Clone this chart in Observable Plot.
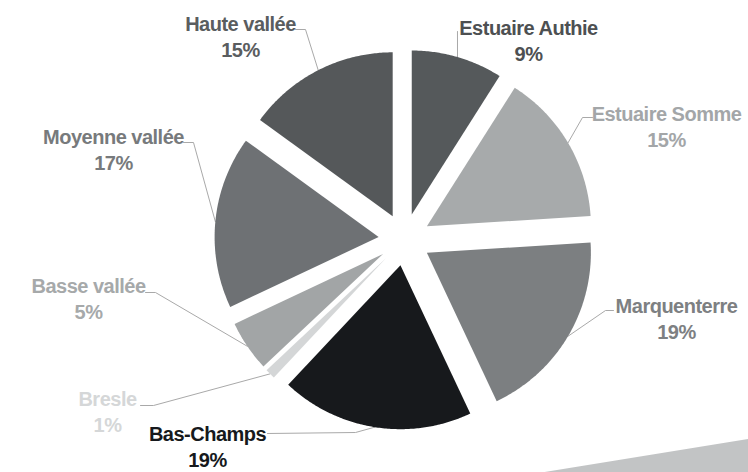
<!DOCTYPE html>
<html><head><meta charset="utf-8">
<script src="https://cdn.jsdelivr.net/npm/d3@7"></script>
<script src="https://cdn.jsdelivr.net/npm/@observablehq/plot@0.6"></script>
<style>
html,body{margin:0;padding:0;background:#fff;}
#wrap{position:relative;width:748px;height:472px;overflow:hidden;}
#deco{position:absolute;left:0;top:0;width:748px;height:472px;z-index:2;
  background:linear-gradient(90deg, rgba(194,196,197,0) 0px, #c2c4c5 300px);
  clip-path:polygon(520px 476px,748px 439px,748px 472px,520px 472px);}
</style></head><body><div id="wrap"><div id="deco"></div></div>
<script>
// ---- data ----
const regions = ["Estuaire Authie","Estuaire Somme","Marquenterre","Bas-Champs","Bresle","Basse vallée","Moyenne vallée","Haute vallée"];
const shares = [9,15,19,19,1,5,17,15];
const pctLabels = ["9%","15%","19%","19%","1%","5%","17%","15%"];
// ---- styles ----
const sliceColors = ["#55595b","#a7aaab","#7c7f81","#17191c","#d4d6d7","#a2a5a6","#6e7174","#55585a"];
const labelColors = ["#4d5052","#a3a6a8","#7d8082","#16191c","#d5d7d8","#a6a9aa","#777a7c","#5a5d5f"];
// ---- layout (pixels) ----
const W = 748, H = 472, CX = 404, CY = 239, R = 164, EXPLODE = 26;
const labelCenters = [[528,39],[666,125],[676,317],[207,445],[107,410],[88,297],[113,148],[240,35]];
const leaderHeads = [[[457,31]],[[592,117],[582,117]],[[613,310],[605,310]],[[267,433],[355,432]],[[140,405],[153,405]],[[145,292],[155,292]],[[183,142],[193,142]],[[295,29],[305,29]]];

const arcs = d3.pie().sort(null).value(d => d)(shares);
const pol = (a, r) => [r * Math.sin(a), -r * Math.cos(a)];

const slicePts = [];
const leaderPts = [];
arcs.forEach((a, i) => {
  const mid = (a.startAngle + a.endAngle) / 2;
  const [ox, oy] = pol(mid, EXPLODE);
  slicePts.push({name: regions[i], color: sliceColors[i], x: ox, y: oy});
  const n = Math.max(2, Math.ceil((a.endAngle - a.startAngle) / 0.01));
  for (let k = 0; k <= n; k++) {
    const t = a.startAngle + (a.endAngle - a.startAngle) * k / n;
    const [px, py] = pol(t, R);
    slicePts.push({name: regions[i], color: sliceColors[i], x: ox + px, y: oy + py});
  }
  leaderHeads[i].forEach(([x, y]) => leaderPts.push({name: regions[i], x: x - CX, y: y - CY}));
  const [mx, my] = pol(mid, R);
  leaderPts.push({name: regions[i], x: ox + mx, y: oy + my});
});

const labels = regions.map((r, i) => ({
  text: r + "\n" + pctLabels[i],
  color: labelColors[i],
  x: labelCenters[i][0] - CX,
  y: labelCenters[i][1] - CY
}));

const chart = Plot.plot({
  width: W, height: H,
  margin: 0,
  x: {domain: [-CX, W - CX], range: [0, W], axis: null},
  y: {domain: [-CY, H - CY], range: [0, H], axis: null},
  color: {type: "identity"},
  style: {background: "transparent", fontFamily: "'Liberation Sans', Arial, sans-serif", letterSpacing: "-0.5px"},
  marks: [
    Plot.line(leaderPts, {x: "x", y: "y", z: "name", stroke: "#a9a9a9", strokeWidth: 1}),
    Plot.line(slicePts, {x: "x", y: "y", z: "name", fill: "color", stroke: "none"}),
    Plot.text(labels, {x: "x", y: "y", text: "text", fill: "color", fontSize: 20, fontWeight: "bold", lineHeight: 1.3, textAnchor: "middle", lineAnchor: "middle"})
  ]
});
document.getElementById("wrap").appendChild(chart);
</script></body></html>
